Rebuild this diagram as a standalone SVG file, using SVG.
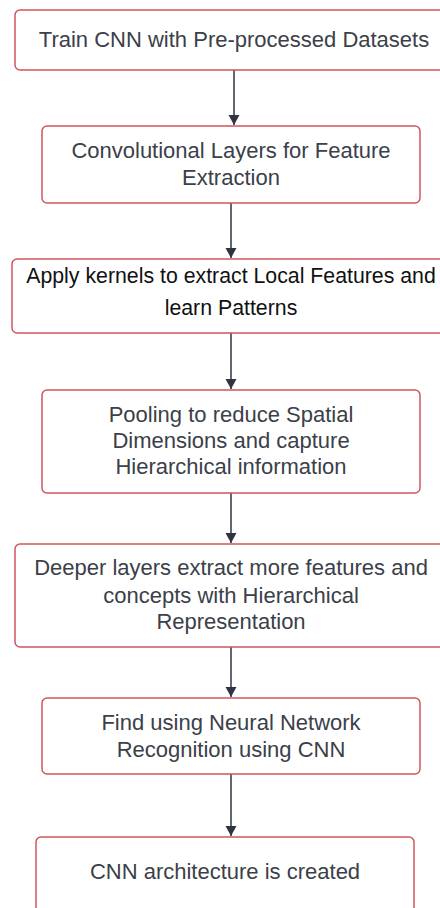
<svg xmlns="http://www.w3.org/2000/svg" width="440" height="908" viewBox="0 0 440 908">
  <style>
    .box { fill: #ffffff; stroke: #d0555d; stroke-width: 1.5; }
    .lbl { font-family: "Liberation Sans", Arial, sans-serif; font-size: 22px; fill: #3b4049; text-anchor: middle; }
    .dark { fill: #111111; font-size: 21.3px; }
    .edge { stroke: #2f3540; stroke-width: 1.5; fill: none; marker-end: url(#arrow); }
  </style>
  <defs>
    <marker id="arrow" viewBox="0 0 10 14" refX="10" refY="7" markerWidth="10" markerHeight="14" markerUnits="userSpaceOnUse" orient="auto">
      <path d="M0,1.5 L10,7 L0,12.5 Z" fill="#2f3540"/>
    </marker>
  </defs>
  <rect width="440" height="908" fill="#ffffff"/>

  <g id="connectors">
    <line class="edge" x1="234" y1="70" x2="234" y2="125"/>
    <line class="edge" x1="231" y1="203" x2="231" y2="258"/>
    <line class="edge" x1="231" y1="333" x2="231" y2="389"/>
    <line class="edge" x1="231" y1="493" x2="231" y2="543"/>
    <line class="edge" x1="231" y1="647" x2="231" y2="697"/>
    <line class="edge" x1="231" y1="774" x2="231" y2="836"/>
  </g>

  <g id="n1">
    <rect class="box" x="15" y="10" width="440" height="60" rx="5"/>
    <text class="lbl" x="234" y="47">Train CNN with Pre-processed Datasets</text>
  </g>

  <g id="n2">
    <rect class="box" x="42" y="126" width="378" height="77" rx="5"/>
    <text class="lbl" x="231" y="158">Convolutional Layers for Feature</text>
    <text class="lbl" x="231" y="185">Extraction</text>
  </g>

  <g id="n3">
    <rect class="box" x="12" y="259" width="440" height="74" rx="5"/>
    <text class="lbl dark" x="231" y="283">Apply kernels to extract Local Features and</text>
    <text class="lbl dark" x="231" y="315">learn Patterns</text>
  </g>

  <g id="n4">
    <rect class="box" x="42" y="390" width="378" height="103" rx="5"/>
    <text class="lbl" x="231" y="422">Pooling to reduce Spatial</text>
    <text class="lbl" x="231" y="448">Dimensions and capture</text>
    <text class="lbl" x="231" y="474">Hierarchical information</text>
  </g>

  <g id="n5">
    <rect class="box" x="15" y="544" width="440" height="103" rx="5"/>
    <text class="lbl" x="231" y="575">Deeper layers extract more features and</text>
    <text class="lbl" x="231" y="603">concepts with Hierarchical</text>
    <text class="lbl" x="231" y="629">Representation</text>
  </g>

  <g id="n6">
    <rect class="box" x="42" y="698" width="378" height="76" rx="5"/>
    <text class="lbl" x="231" y="730">Find using Neural Network</text>
    <text class="lbl" x="231" y="757">Recognition using CNN</text>
  </g>

  <g id="n7">
    <rect class="box" x="36" y="837" width="378" height="90" rx="5"/>
    <text class="lbl" x="225" y="879">CNN architecture is created</text>
  </g>
</svg>
